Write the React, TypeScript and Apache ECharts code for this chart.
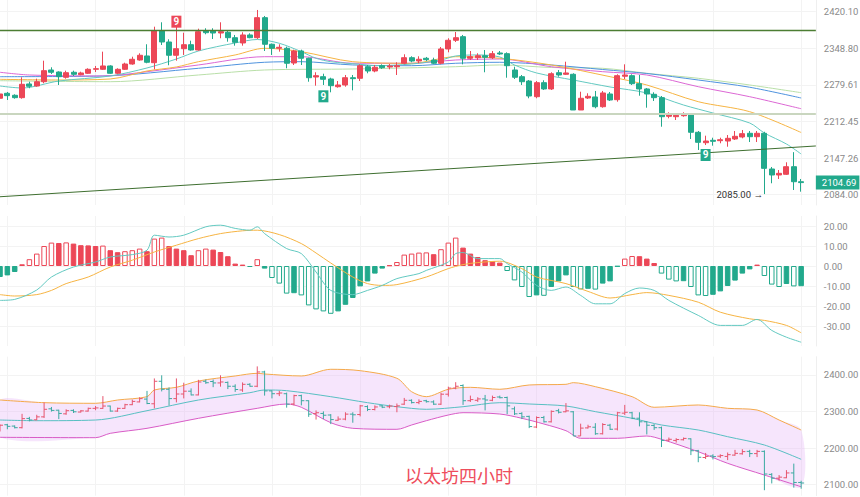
import React, { useEffect, useRef } from 'react';
import * as echarts from 'echarts';

// ---------- DATA ----------
// candles: [open, close, low, high]
const candles: number[][] = [
  [2254.8, 2262.7, 2245.6, 2264.6], [2264.0, 2259.6, 2251.6, 2266.4], [2260.3, 2255.9, 2254.0, 2262.1],
  [2255.9, 2280.7, 2254.0, 2293.8], [2281.3, 2277.0, 2273.3, 2285.5], [2277.5, 2285.5, 2276.2, 2291.2],
  [2285.5, 2306.2, 2282.6, 2325.1], [2307.5, 2303.2, 2300.0, 2312.6], [2303.7, 2294.9, 2279.4, 2305.0],
  [2293.8, 2302.4, 2291.2, 2306.2], [2303.2, 2299.4, 2296.2, 2306.2], [2298.7, 2301.9, 2297.5, 2304.3],
  [2301.3, 2308.8, 2300.0, 2310.7], [2308.8, 2310.0, 2303.7, 2315.1], [2308.8, 2315.1, 2307.5, 2342.3],
  [2315.1, 2301.3, 2300.0, 2316.4], [2301.3, 2308.8, 2299.4, 2310.7], [2308.8, 2318.8, 2307.5, 2321.3],
  [2318.8, 2327.8, 2317.5, 2332.7], [2326.4, 2335.4, 2325.1, 2339.2], [2334.1, 2322.1, 2320.2, 2356.5],
  [2321.3, 2382.8, 2308.8, 2390.6], [2382.8, 2360.9, 2355.1, 2399.2], [2360.9, 2335.4, 2316.4, 2366.1],
  [2335.4, 2348.0, 2325.1, 2390.6], [2348.0, 2355.7, 2336.0, 2378.9], [2355.7, 2345.5, 2344.2, 2363.4],
  [2345.5, 2380.9, 2344.2, 2386.7], [2382.8, 2378.9, 2375.8, 2387.5], [2382.2, 2378.3, 2366.7, 2387.5],
  [2378.3, 2380.9, 2368.1, 2399.2], [2379.7, 2369.2, 2361.5, 2382.2], [2369.2, 2360.3, 2353.8, 2374.5],
  [2359.0, 2374.5, 2353.8, 2379.7], [2374.5, 2369.2, 2368.1, 2377.7], [2369.2, 2408.3, 2366.7, 2423.5],
  [2408.3, 2356.5, 2343.6, 2411.6], [2356.5, 2348.8, 2336.0, 2358.0], [2348.8, 2350.7, 2342.3, 2356.5],
  [2348.8, 2320.2, 2310.7, 2351.9], [2320.7, 2343.6, 2316.9, 2346.1], [2343.6, 2329.7, 2316.9, 2346.1],
  [2329.7, 2293.0, 2285.5, 2330.8], [2294.3, 2296.8, 2278.1, 2303.2], [2294.9, 2290.0, 2279.4, 2300.5],
  [2290.6, 2278.1, 2265.8, 2293.0], [2276.2, 2279.4, 2274.4, 2286.8], [2279.4, 2293.0, 2276.2, 2298.1],
  [2293.0, 2291.2, 2269.5, 2298.1], [2291.9, 2315.6, 2286.8, 2318.2], [2313.7, 2305.6, 2301.3, 2317.0],
  [2305.6, 2312.6, 2303.2, 2317.0], [2315.6, 2311.9, 2309.4, 2318.2], [2313.2, 2315.1, 2308.8, 2318.8],
  [2313.7, 2315.6, 2298.1, 2322.1], [2320.2, 2330.8, 2318.2, 2337.3], [2330.8, 2324.5, 2322.1, 2333.5],
  [2324.5, 2327.8, 2320.2, 2333.5], [2329.7, 2327.0, 2324.5, 2332.2], [2326.4, 2320.2, 2318.2, 2330.8],
  [2320.2, 2347.5, 2318.2, 2351.3], [2347.5, 2364.2, 2341.1, 2368.1], [2364.2, 2369.2, 2360.9, 2380.3],
  [2371.2, 2329.7, 2318.2, 2374.5], [2329.7, 2332.7, 2326.4, 2343.6], [2330.8, 2334.6, 2326.4, 2339.2],
  [2334.6, 2331.6, 2303.2, 2345.5], [2330.8, 2338.5, 2328.3, 2343.6], [2339.8, 2337.9, 2336.0, 2343.6],
  [2338.5, 2315.6, 2293.0, 2341.0], [2307.5, 2293.8, 2290.6, 2313.7], [2294.9, 2285.5, 2279.4, 2298.1],
  [2286.8, 2259.0, 2254.8, 2288.7], [2257.7, 2283.7, 2254.8, 2286.8], [2283.7, 2272.0, 2270.1, 2288.2],
  [2272.0, 2300.5, 2270.1, 2303.2], [2302.4, 2298.1, 2294.9, 2307.5], [2299.4, 2301.9, 2298.1, 2323.2],
  [2299.4, 2233.3, 2233.3, 2301.3], [2233.3, 2254.8, 2233.3, 2266.9], [2255.3, 2258.4, 2253.5, 2264.0],
  [2257.2, 2239.3, 2236.4, 2268.3], [2239.3, 2264.6, 2237.5, 2268.3], [2262.7, 2251.6, 2249.8, 2266.4],
  [2252.2, 2296.8, 2248.5, 2299.4], [2295.7, 2298.1, 2290.6, 2318.2], [2296.8, 2281.8, 2279.4, 2299.4],
  [2281.8, 2272.0, 2259.5, 2298.1], [2272.0, 2262.7, 2237.5, 2273.8], [2262.1, 2255.9, 2249.8, 2265.8],
  [2255.9, 2221.1, 2203.0, 2259.0], [2221.8, 2224.2, 2218.2, 2229.1], [2221.1, 2223.6, 2215.1, 2227.3],
  [2222.9, 2226.6, 2221.1, 2229.1], [2225.5, 2193.0, 2181.0, 2226.9], [2193.0, 2175.1, 2161.5, 2195.3],
  [2174.4, 2177.4, 2170.3, 2186.9], [2178.7, 2176.9, 2169.1, 2183.3], [2178.0, 2179.7, 2173.4, 2183.3],
  [2177.4, 2182.2, 2167.3, 2188.1], [2181.0, 2185.8, 2179.2, 2195.3], [2184.6, 2190.5, 2182.2, 2197.1],
  [2191.2, 2185.1, 2175.6, 2195.3], [2185.1, 2191.2, 2175.6, 2195.3], [2191.2, 2129.3, 2085.0, 2193.9],
  [2128.2, 2117.8, 2103.5, 2131.7], [2117.8, 2120.7, 2110.9, 2126.4], [2119.0, 2132.2, 2117.8, 2139.9],
  [2132.2, 2106.2, 2092.0, 2157.7], [2106.2, 2104.69, 2089.1, 2110.9],
];

const slotCount = 112;
const categories: string[] = Array.from({ length: slotCount }, (_, i) => `K${i + 1}`);

// moving averages (candle index, price)
const maTeal: number[][] = [[0,2277.5],[3,2273.8],[8,2286.8],[15,2296.2],[20,2311.3],[24,2328.3],[27,2343.6],[32,2359.0],[35,2365.7],[38,2358.4],[41,2342.3],[43,2329.7],[45,2323.2],[49,2318.2],[51,2315.6],[56,2318.8],[60,2326.4],[62,2334.1],[65,2336.0],[68,2332.2],[70,2317.0],[73,2301.9],[78,2288.7],[83,2275.7],[88,2264.6],[93,2242.4],[97,2227.8],[102,2209.7],[104,2191.7],[107,2172.1],[109,2154.4]];
const maOrange: number[][] = [[0,2290.0],[8,2288.7],[15,2290.6],[20,2305.6],[24,2313.2],[27,2323.2],[32,2336.0],[36,2348.8],[41,2342.3],[48,2323.2],[56,2320.2],[62,2332.7],[68,2329.7],[75,2317.0],[83,2294.9],[88,2279.4],[95,2248.5],[102,2230.2],[109,2192.6]];
const maMagenta: number[][] = [[0,2303.2],[4,2298.1],[14,2296.2],[20,2304.3],[27,2317.0],[36,2332.7],[41,2332.7],[48,2320.2],[56,2320.2],[62,2326.4],[68,2328.3],[75,2313.7],[82,2304.3],[88,2298.1],[95,2276.2],[102,2257.7],[109,2235.6]];
const maBlue: number[][] = [[0,2294.9],[14,2296.2],[27,2310.7],[36,2322.1],[41,2323.2],[48,2317.0],[56,2315.6],[62,2320.2],[68,2322.1],[75,2317.0],[82,2308.4],[88,2300.9],[95,2288.7],[102,2275.2],[109,2255.3]];
const maLime: number[][] = [[0,2287.4],[15,2285.5],[27,2298.1],[36,2307.5],[48,2309.4],[62,2313.7],[68,2317.0],[75,2312.2],[82,2310.7],[88,2301.3],[95,2291.9],[102,2279.4],[109,2265.1]];

// levels
const resistance = 2383.6;
const support = 2226.9;
const trendStart = [0, 2080.5];
const trendEnd = [111, 2168.6];
const lastPrice = 2104.69;
const lowPrice = 2085.0;
const lowIndex = 104;
const nineMarks: { i: number; p: number; up: boolean }[] = [
  { i: 24, p: 2400.4, up: true },
  { i: 44, p: 2258.4, up: false },
  { i: 96, p: 2152.7, up: false },
];

// MACD
const macdHist: number[] = [
  -5.5, -4.7, -3.0, 0.85, 3.4, 6.2, 10.0, 11.7, 11.5, 11.8,
  11.2, 10.4, 10.3, 10.0, 10.2, 7.9, 6.9, 7.4, 7.9, 8.7,
  7.4, 13.7, 14.2, 10.0, 8.7, 7.9, 5.4, 7.9, 8.7, 8.2,
  7.0, 4.9, 1.2, 0.7, -0.5, 3.4, -1.3, -6.0, -8.8, -13.8,
  -13.6, -14.7, -19.7, -21.7, -22.7, -23.9, -22.7, -19.4, -16.0, -10.2,
  -7.7, -3.8, -1.3, 0.35, 2.0, 5.7, 6.2, 6.7, 6.8, 5.9,
  8.4, 11.7, 14.2, 9.2, 6.2, 4.5, 2.9, 2.4, 1.7, -2.5,
  -7.2, -10.5, -15.5, -14.7, -14.9, -10.5, -7.7, -4.7, -10.5, -11.7,
  -11.4, -11.8, -8.8, -7.7, -0.3, 3.7, 5.0, 4.9, 3.7, 1.5,
  -3.8, -6.8, -7.7, -7.6, -10.5, -14.7, -15.0, -14.4, -12.7, -10.0,
  -7.3, -3.8, -1.7, 0.7, -5.0, -9.3, -10.5, -9.0, -10.2, -10.1,
];
const macdDif: number[][] = [[0,-17.2],[2,-16.7],[5,-12.0],[7,-5.5],[10,-0.5],[13,2.0],[15,4.5],[18,5.7],[20,7.9],[21,15.4],[23,14.5],[25,15.4],[28,19.6],[30,20.4],[32,18.8],[34,17.9],[35,19.6],[36,16.2],[39,8.7],[41,6.2],[43,-3.0],[45,-12.2],[48,-14.3],[50,-12.2],[52,-9.7],[54,-6.3],[57,-3.8],[58,-2.2],[61,2.0],[62,6.2],[63,6.7],[65,3.7],[68,3.7],[69,1.2],[71,-3.0],[73,-9.7],[75,-12.2],[77,-10.5],[79,-14.7],[81,-18.9],[83,-18.9],[85,-13.8],[87,-11.0],[89,-12.2],[91,-17.2],[95,-24.7],[98,-29.7],[101,-29.7],[103,-26.7],[105,-32.2],[107,-35.6],[109,-38.1]];
const macdDea: number[][] = [[0,-14.3],[2,-15.0],[5,-14.3],[7,-12.2],[9,-8.8],[12,-5.5],[15,-0.5],[18,2.9],[21,7.0],[24,10.4],[27,13.7],[30,16.2],[33,17.6],[35,17.9],[38,15.7],[41,11.2],[43,6.5],[45,1.5],[48,-5.5],[50,-8.8],[52,-9.7],[54,-9.3],[58,-5.5],[61,-1.3],[63,0.7],[65,1.7],[68,2.4],[71,-1.3],[73,-5.5],[77,-8.8],[80,-12.7],[83,-16.0],[86,-14.3],[88,-13.3],[91,-14.7],[95,-18.1],[98,-23.1],[102,-26.4],[104,-27.2],[107,-29.7],[109,-33.4]];

// Bollinger
const bbUpper: number[][] = [[0,2331.6],[6,2324.3],[13,2322.6],[16,2331.6],[20,2340.7],[21,2359.0],[24,2366.3],[27,2383.6],[32,2397.3],[35,2404.6],[36,2402.7],[41,2397.3],[45,2415.6],[49,2411.8],[54,2391.0],[56,2354.3],[58,2340.7],[61,2360.9],[64,2366.3],[68,2360.9],[72,2372.7],[77,2374.5],[78,2379.0],[81,2368.1],[86,2340.7],[89,2311.7],[95,2318.0],[99,2308.9],[103,2304.3],[106,2276.9],[109,2249.6]];
const bbMid: number[][] = [[0,2276.9],[5,2275.0],[13,2276.9],[20,2302.4],[27,2331.6],[34,2351.6],[36,2359.0],[39,2357.1],[45,2340.7],[50,2324.3],[54,2313.3],[58,2306.2],[63,2313.3],[68,2324.3],[72,2320.7],[77,2315.2],[81,2299.8],[86,2281.6],[90,2263.3],[95,2249.6],[99,2231.3],[104,2208.6],[109,2169.5]];
const bbLower: number[][] = [[0,2229.6],[13,2228.6],[15,2240.5],[20,2254.2],[27,2281.6],[35,2308.9],[39,2320.7],[41,2311.7],[45,2269.6],[48,2254.2],[54,2251.5],[56,2263.3],[58,2275.0],[61,2290.6],[63,2296.9],[68,2293.3],[71,2281.6],[74,2266.0],[77,2247.7],[79,2226.9],[84,2226.9],[88,2233.2],[90,2224.2],[95,2190.3],[99,2158.5],[104,2126.5],[109,2094.5]];

// axis tick labels
const topTicks = [2420.10, 2348.80, 2279.61, 2212.45, 2147.26, 2084.00];
const macdTicks = [20, 10, 0, -10, -20, -30];
const bollTicks = [2400, 2300, 2200, 2100];
const titleText = '以太坊四小时';

// ---------- STYLE ----------
const RED = '#ec4757';
const GREEN = '#22a98c';
const LABEL_COLOR = '#8a8a8a';
const SPLIT = '#f3f3f3';
const FONT = 'Roboto, sans-serif';
const PLOT_W = 815.85;

const ln = Math.log;

export default function App() {
  const ref = useRef<HTMLDivElement>(null);

  useEffect(() => {
    if (!ref.current) return;
    document.body.style.margin = '0';
    const chart = echarts.init(ref.current, undefined, { renderer: 'svg' });

    const xAxisBase = (gridIndex: number) => ({
      type: 'category',
      gridIndex,
      data: categories,
      boundaryGap: false,
      axisLine: { show: false },
      axisTick: { show: false },
      axisLabel: { show: false },
      splitLine: {
        show: true,
        interval: (idx: number) => idx % 12 === 1,
        lineStyle: { color: SPLIT, width: 1 },
      },
    });

    const labelStyle = { color: LABEL_COLOR, fontSize: 9.5, fontFamily: FONT, margin: 8 };

    const lineSeries = (data: number[][], color: string, xi: number, transform?: (v: number) => number) => ({
      type: 'line',
      xAxisIndex: xi,
      yAxisIndex: xi,
      data: data.map(([i, v]) => [i, transform ? transform(v) : v]),
      showSymbol: false,
      smooth: 0.3,
      silent: true,
      z: 2,
      lineStyle: { color, width: 1 },
    });

    const histData = macdHist.map((v, i) => {
      const prev = i > 0 ? Math.abs(macdHist[i - 1]) : Infinity;
      const hollow = Math.abs(v) > prev;
      const col = v >= 0 ? RED : GREEN;
      return {
        value: v,
        itemStyle: { color: hollow ? '#ffffff' : col, borderColor: col, borderWidth: 1 },
      };
    });

    const option: any = {
      animation: false,
      backgroundColor: '#ffffff',
      grid: [
        { left: 0, top: 0, width: PLOT_W, height: 205, outerBoundsMode: 'none' },
        { left: 0, top: 216, width: PLOT_W, height: 130, outerBoundsMode: 'none' },
        { left: 0, top: 356.7, width: PLOT_W, height: 139, outerBoundsMode: 'none' },
      ],
      xAxis: [xAxisBase(0), xAxisBase(1), xAxisBase(2)],
      yAxis: [
        {
          type: 'value', gridIndex: 0, position: 'right', scale: true,
          min: ln(2066.5), max: ln(2443.3),
          axisLine: { show: true, lineStyle: { color: '#efefef' } },
          axisTick: { show: false, customValues: topTicks.map(ln) },
          axisLabel: { ...labelStyle, customValues: topTicks.map(ln), formatter: (v: number) => Math.exp(v).toFixed(2) },
          splitLine: { show: true, lineStyle: { color: SPLIT } },
        },
        {
          type: 'value', gridIndex: 1, position: 'right', min: -40, max: 25,
          axisLine: { show: true, lineStyle: { color: '#efefef' } },
          axisTick: { show: false, customValues: macdTicks },
          axisLabel: { ...labelStyle, customValues: macdTicks, formatter: (v: number) => v.toFixed(2) },
          splitLine: { show: true, lineStyle: { color: SPLIT } },
        },
        {
          type: 'value', gridIndex: 2, position: 'right', min: 2070, max: 2450,
          axisLine: { show: true, lineStyle: { color: '#efefef' } },
          axisTick: { show: false, customValues: bollTicks },
          axisLabel: { ...labelStyle, customValues: bollTicks, formatter: (v: number) => v.toFixed(2) },
          splitLine: { show: true, lineStyle: { color: SPLIT } },
        },
      ],
      graphic: [
        {
          type: 'text', left: 405, top: 466, z: 100,
          style: { text: titleText, fontSize: 18, fill: '#ee4d5c', fontFamily: '"Noto Sans CJK SC", sans-serif' },
        },
      ],
      series: [
        // moving averages
        lineSeries(maLime, '#b9dfa8', 0, ln),
        lineSeries(maBlue, '#4f93de', 0, ln),
        lineSeries(maMagenta, '#dc68d4', 0, ln),
        lineSeries(maOrange, '#f6b443', 0, ln),
        lineSeries(maTeal, '#63c9c1', 0, ln),
        {
          type: 'candlestick',
          xAxisIndex: 0, yAxisIndex: 0,
          data: candles.map((c) => c.map(ln)),
          barWidth: 5.5,
          z: 3,
          itemStyle: { color: RED, color0: GREEN, borderColor: RED, borderColor0: GREEN, borderWidth: 1 },
          markLine: {
            silent: true,
            precision: 10,
            symbol: ['none', 'none'],
            label: { show: false },
            data: [
              { yAxis: ln(resistance), lineStyle: { color: '#4c7d33', width: 1.3, type: 'solid' } },
              { yAxis: ln(support), lineStyle: { color: '#c9d6bf', width: 2, type: 'solid' } },
              [
                { coord: [trendStart[0], ln(trendStart[1])], lineStyle: { color: '#3f6f30', width: 1, type: 'solid' } },
                { coord: [trendEnd[0], ln(trendEnd[1])] },
              ],
            ],
          },
          markPoint: {
            silent: true,
            precision: 10,
            data: [
              ...nineMarks.map((m) => ({
                coord: [m.i, ln(m.p)],
                symbol: 'rect',
                symbolSize: [10, 12],
                itemStyle: { color: m.up ? RED : GREEN },
                label: { show: true, position: 'inside', formatter: '9', color: '#ffffff', fontSize: 10, fontWeight: 'bold', fontFamily: FONT },
              })),
              {
                coord: [lowIndex, ln(lowPrice)],
                symbol: 'circle',
                symbolSize: 1,
                itemStyle: { color: 'rgba(0,0,0,0)' },
                label: {
                  show: true, position: 'left', distance: 1,
                  formatter: lowPrice.toFixed(2) + ' →',
                  color: '#333333', fontSize: 9.5, fontFamily: FONT,
                },
              },
            ],
          },
        },
        // current price tag
        {
          type: 'line',
          xAxisIndex: 0, yAxisIndex: 0,
          data: [],
          silent: true,
          markLine: {
            silent: true,
            precision: 10,
            symbol: ['none', 'none'],
            lineStyle: { color: 'rgba(0,0,0,0)', width: 0 },
            label: {
              show: true, position: 'end', distance: 0,
              formatter: lastPrice.toFixed(2),
              backgroundColor: GREEN, color: '#ffffff', padding: [2, 3, 2, 6],
              fontSize: 9.5, fontFamily: FONT,
            },
            data: [{ yAxis: ln(lastPrice) }],
          },
        },
        // MACD
        {
          type: 'bar', xAxisIndex: 1, yAxisIndex: 1,
          data: histData, barWidth: 5.5, silent: true,
        },
        lineSeries(macdDea, '#f6b443', 1),
        lineSeries(macdDif, '#63c9c1', 1),
        // Bollinger fill
        {
          type: 'custom', xAxisIndex: 2, yAxisIndex: 2, silent: true, z: 1,
          data: [[0, 2300]],
          renderItem: (params: any, api: any) => {
            const up = bbUpper.map(([i, v]) => api.coord([i, v]));
            const lo = bbLower.slice().reverse().map(([i, v]) => api.coord([i, v]));
            return {
              type: 'polygon',
              shape: { points: up.concat(lo), smooth: 0.3 },
              style: { fill: 'rgba(228, 176, 245, 0.33)', stroke: 'none' },
            };
          },
        },
        lineSeries(bbUpper, '#f4a94a', 2),
        lineSeries(bbMid, '#58bfc2', 2),
        lineSeries(bbLower, '#d85cc6', 2),
        // OHLC bars
        {
          type: 'custom', xAxisIndex: 2, yAxisIndex: 2, silent: true, z: 4,
          data: candles.map((c, i) => [i, c[0], c[1], c[2], c[3]]),
          encode: { x: 0, y: [1, 2, 3, 4] },
          renderItem: (params: any, api: any) => {
            const i = api.value(0);
            const o = api.value(1), c = api.value(2), l = api.value(3), h = api.value(4);
            const pH = api.coord([i, h]);
            const pL = api.coord([i, l]);
            const pO = api.coord([i, o]);
            const pC = api.coord([i, c]);
            const color = c >= o ? '#e7546d' : '#3aa9a0';
            const w = 3;
            return {
              type: 'group',
              children: [
                { type: 'line', shape: { x1: pH[0], y1: pH[1], x2: pL[0], y2: pL[1] }, style: { stroke: color, lineWidth: 1 } },
                { type: 'line', shape: { x1: pO[0] - w, y1: pO[1], x2: pO[0], y2: pO[1] }, style: { stroke: color, lineWidth: 1 } },
                { type: 'line', shape: { x1: pC[0], y1: pC[1], x2: pC[0] + w, y2: pC[1] }, style: { stroke: color, lineWidth: 1 } },
              ],
            };
          },
        },
      ],
    };

    chart.setOption(option);
    return () => {
      chart.dispose();
    };
  }, []);

  return (
    <div
      ref={ref}
      style={{ position: 'fixed', left: 0, top: 0, width: 860, height: 497, background: '#fff' }}
    />
  );
}
